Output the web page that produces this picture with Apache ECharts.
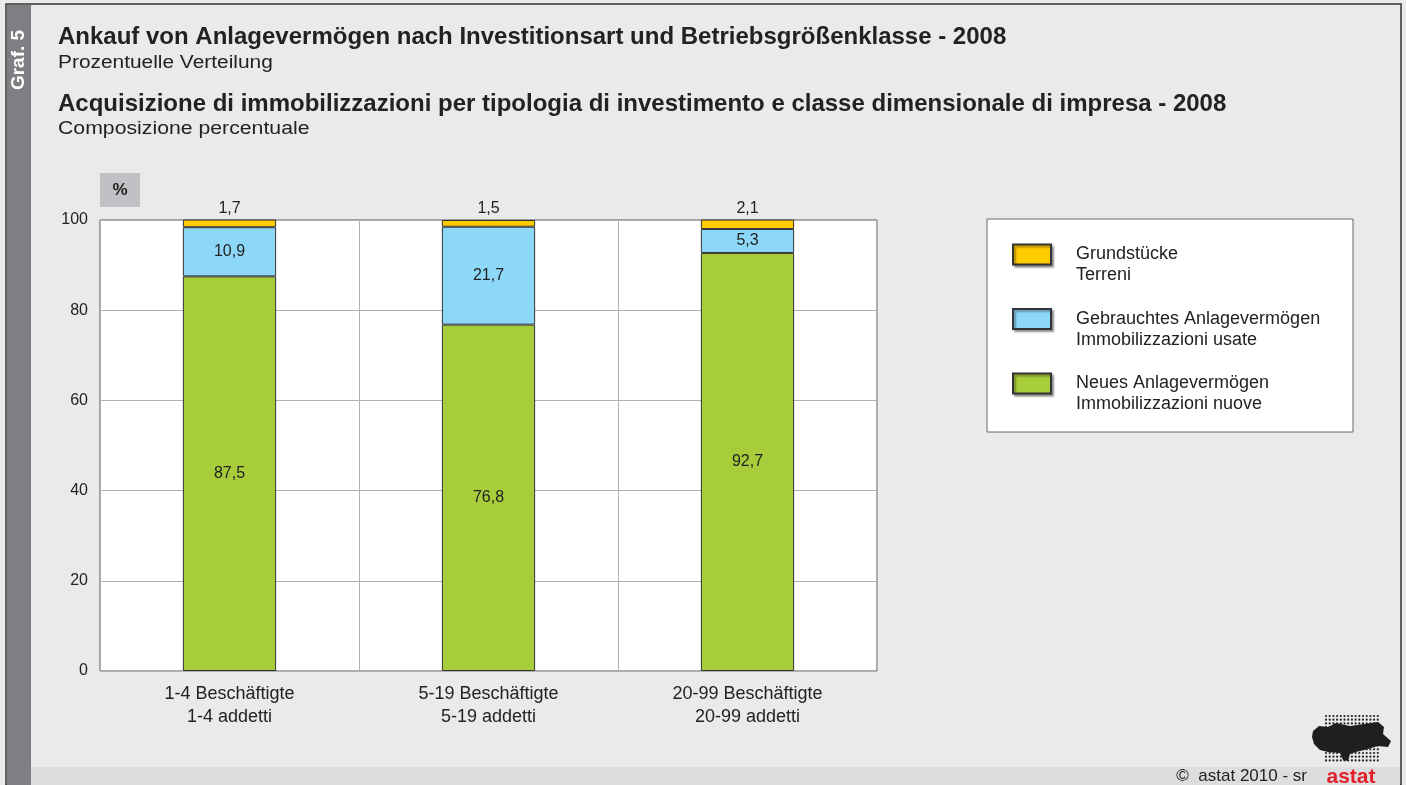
<!DOCTYPE html>
<html lang="de">
<head>
    <meta charset="UTF-8">
    <title>Ankauf von Anlagevermögen - 2008</title>
    <style type="text/css">
        html, body {
            margin: 0;
            padding: 0;
            background: #e9ebea;
        }

        #chart {
            width: 1406px;
            height: 785px;
        }
    </style>
</head>
<body>
<div id="chart"></div>
<script src="https://cdn.jsdelivr.net/npm/echarts@6/dist/echarts.min.js"></script>
<script type="text/javascript">
    // Daten / dati
    const categories = ["1-4 Beschäftigte\n1-4 addetti", "5-19 Beschäftigte\n5-19 addetti", "20-99 Beschäftigte\n20-99 addetti"];
    const neues = [87.5, 76.8, 92.7];        // Immobilizzazioni nuove
    const gebrauchtes = [10.9, 21.7, 5.3];   // Immobilizzazioni usate
    const grundstuecke = [1.7, 1.5, 2.1];    // Terreni
    const seriesNames = ["Neues Anlagevermögen\nImmobilizzazioni nuove",
        "Gebrauchtes Anlagevermögen\nImmobilizzazioni usate",
        "Grundstücke\nTerreni"];
    const seriesColors = ["#a8cd3a", "#8dd8f8", "#ffcc00"];

    const font = "'Liberation Sans', Arial, sans-serif";
    const fmt = p => String(p.value).replace(".", ",");

    // Logo: Punktraster (nur Dekoration)
    const logoDots = [];
    for (let r = 0; r < 13; r++) {
        for (let c = 0; c < 15; c++) {
            logoDots.push({
                type: "circle",
                shape: {cx: 1326 + c * 3.7, cy: 716 + r * 3.7, r: 1.1},
                style: {fill: "#222"},
                z: 5
            });
        }
    }

    function bar(name, data, color, pos) {
        return {
            name: name,
            type: "bar",
            stack: "total",
            barWidth: "36%",
            data: data,
            itemStyle: {color: color, borderColor: "#333", borderWidth: 1},
            label: {
                show: true,
                position: pos,
                distance: 3,
                formatter: fmt,
                color: "#222",
                fontSize: 16,
                fontFamily: font
            }
        };
    }

    // Text links ausgerichtet, leicht in die Breite gezogen wie im Original
    function txt(str, y, size, bold, sx) {
        return {
            type: "text", x: 58, y: y, scaleX: sx, originX: 0,
            style: {
                text: str, fill: "#222", font: (bold ? "bold " : "") + size + "px " + font,
                textVerticalAlign: "middle"
            }
        };
    }

    const chart = echarts.init(document.getElementById("chart"));
    chart.setOption({
        backgroundColor: "#e9ebea",
        animation: false,
        textStyle: {fontFamily: font},
        grid: {
            left: 100, top: 220, width: 777, height: 451,
            show: true, backgroundColor: "#fff", borderColor: "#555", borderWidth: 1
        },
        legend: {
            orient: "vertical",
            left: 1012,
            top: 223,
            padding: 0,
            icon: "rect",
            itemWidth: 38,
            itemHeight: 20,
            itemGap: 1.5,
            data: [seriesNames[2], seriesNames[1], seriesNames[0]],
            // leere erste Zeile: erste Textzeile auf Höhe des Symbols
            formatter: name => "\n" + name,
            textStyle: {fontSize: 18, color: "#222", lineHeight: 21, padding: [0, 0, 0, 20]},
            itemStyle: {shadowColor: "rgba(0,0,0,0.35)", shadowOffsetX: 2, shadowOffsetY: 2, shadowBlur: 2},
            selectedMode: false
        },
        xAxis: {
            type: "category",
            data: categories,
            axisTick: {show: false},
            axisLine: {show: false},
            splitLine: {show: true, lineStyle: {color: "#b0b0b0"}},
            axisLabel: {fontSize: 18, color: "#222", lineHeight: 23, margin: 12}
        },
        yAxis: {
            type: "value",
            min: 0,
            max: 100,
            interval: 20,
            axisTick: {show: false},
            axisLine: {show: false},
            splitLine: {lineStyle: {color: "#b0b0b0"}},
            axisLabel: {fontSize: 16, color: "#222", margin: 12}
        },
        series: [
            bar(seriesNames[0], neues, seriesColors[0], "inside"),
            bar(seriesNames[1], gebrauchtes, seriesColors[1], "inside"),
            bar(seriesNames[2], grundstuecke, seriesColors[2], "top")
        ],
        graphic: [
            // Rahmen und Streifen
            {type: "rect", shape: {x: 6, y: 4, width: 1395, height: 781}, style: {fill: "none", stroke: "#333", lineWidth: 1.5}, z: -5},
            {type: "rect", shape: {x: 7, y: 5, width: 24, height: 780}, style: {fill: "#7e7f83"}, z: -4},
            {type: "rect", shape: {x: 31, y: 767, width: 1369, height: 18}, style: {fill: "#dcdddf"}, z: -4},
            {
                type: "text", x: 19, y: 60, rotation: Math.PI / 2,
                style: {text: "Graf. 5", fill: "#fff", font: "bold 19px " + font, textAlign: "center", textVerticalAlign: "middle"}
            },
            // Titel
            txt("Ankauf von Anlagevermögen nach Investitionsart und Betriebsgrößenklasse - 2008", 37, 24, true, 1),
            txt("Prozentuelle Verteilung", 63, 18, false, 1.16),
            txt("Acquisizione di immobilizzazioni per tipologia di investimento e classe dimensionale di impresa - 2008", 104, 24, true, 1),
            txt("Composizione percentuale", 129, 18, false, 1.18),
            // Einheit
            {type: "rect", shape: {x: 100, y: 173, width: 40, height: 34}, style: {fill: "#c0c1c4"}},
            {type: "text", x: 120, y: 190, style: {text: "%", fill: "#222", font: "bold 17px " + font, textAlign: "center", textVerticalAlign: "middle"}},
            // Legendenrahmen
            {type: "rect", shape: {x: 987, y: 219, width: 366, height: 213}, style: {fill: "#fff", stroke: "#666", lineWidth: 1}, z: 1},
            // Fußzeile
            {type: "text", x: 1307, y: 776, style: {text: "©  astat 2010 - sr", fill: "#222", font: "17px " + font, textAlign: "right", textVerticalAlign: "middle"}},
            {type: "text", x: 1351, y: 777, style: {text: "astat", fill: "#e3202a", font: "bold 21px " + font, textAlign: "center", textVerticalAlign: "middle"}},
            {
                type: "polygon", z: 4,
                shape: {points: [[1313, 731], [1319, 726], [1328, 727], [1336, 723], [1350, 726], [1364, 724], [1378, 722], [1384, 727], [1383, 734], [1391, 741], [1388, 747], [1378, 746], [1368, 749], [1356, 752], [1350, 754], [1348, 761], [1343, 760], [1340, 753], [1328, 752], [1320, 750], [1314, 744], [1312, 737]]},
                style: {fill: "#1e1e1e"}
            },
            {type: "group", children: logoDots}
        ]
    });
</script>
</body>
</html>
